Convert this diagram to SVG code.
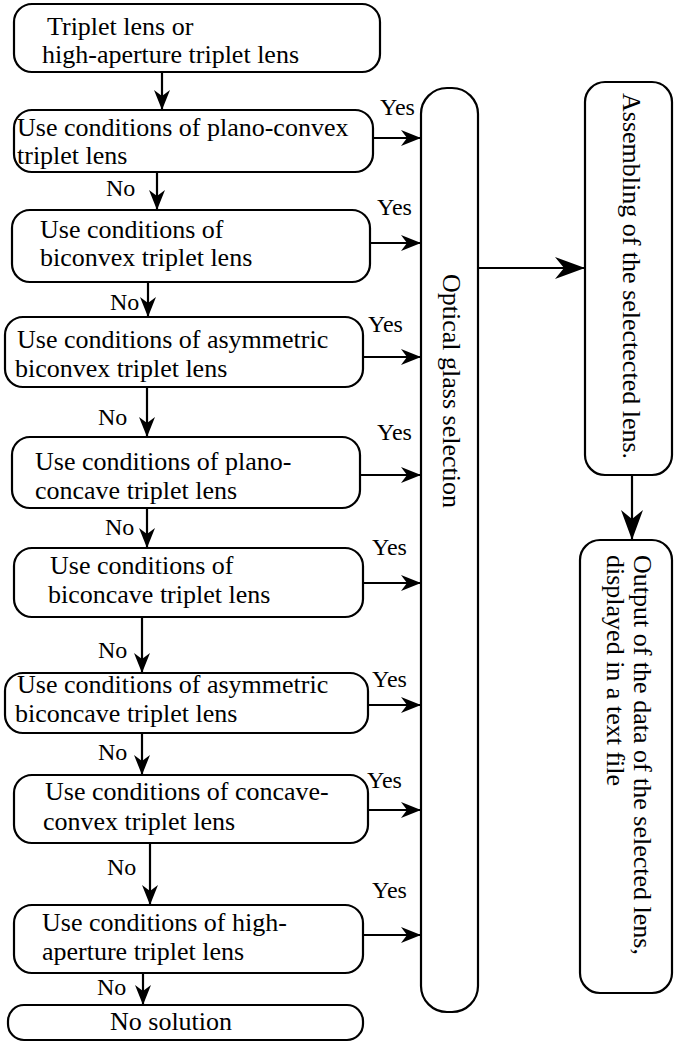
<svg xmlns="http://www.w3.org/2000/svg" width="674" height="1044" viewBox="0 0 674 1044">
  <style>
    .box { fill: #fff; stroke: #000; stroke-width: 2.2; }
    .t { font-family: "Liberation Serif", "Times New Roman", serif; font-size: 26px; fill: #000; }
    .lbl { font-family: "Liberation Serif", "Times New Roman", serif; font-size: 24px; fill: #000; }
    .ln { stroke: #000; stroke-width: 2.2; fill: none; }
  </style>
  <defs>
    <marker id="ah" markerUnits="userSpaceOnUse" markerWidth="24" markerHeight="20" refX="20" refY="9" orient="auto">
      <path d="M20,9 L0,1 L6,9 L0,17 Z" fill="#000"/>
    </marker>
    <marker id="ahL" markerUnits="userSpaceOnUse" markerWidth="34" markerHeight="26" refX="30" refY="12" orient="auto">
      <path d="M30,12 L0,1 L9,12 L0,23 Z" fill="#000"/>
    </marker>
  </defs>
  <rect width="674" height="1044" fill="#fff"/>

  <!-- connectors -->
  <g id="connectors">
    <!-- "No" chain down the left column -->
    <line class="ln" x1="162" y1="72" x2="162" y2="110" marker-end="url(#ah)"/>
    <line class="ln" x1="157" y1="172" x2="157" y2="210" marker-end="url(#ah)"/>
    <line class="ln" x1="148" y1="282" x2="148" y2="317" marker-end="url(#ah)"/>
    <line class="ln" x1="147" y1="387" x2="147" y2="437" marker-end="url(#ah)"/>
    <line class="ln" x1="147" y1="508" x2="147" y2="548" marker-end="url(#ah)"/>
    <line class="ln" x1="142" y1="617" x2="142" y2="673" marker-end="url(#ah)"/>
    <line class="ln" x1="142" y1="733" x2="142" y2="775" marker-end="url(#ah)"/>
    <line class="ln" x1="150" y1="843" x2="150" y2="905" marker-end="url(#ah)"/>
    <line class="ln" x1="143" y1="973" x2="143" y2="1005" marker-end="url(#ah)"/>
    <!-- "Yes" branches into the glass selection -->
    <line class="ln" x1="373" y1="138" x2="421" y2="138" marker-end="url(#ah)"/>
    <line class="ln" x1="370" y1="243" x2="421" y2="243" marker-end="url(#ah)"/>
    <line class="ln" x1="363" y1="357" x2="421" y2="357" marker-end="url(#ah)"/>
    <line class="ln" x1="360" y1="475" x2="421" y2="475" marker-end="url(#ah)"/>
    <line class="ln" x1="363" y1="583" x2="421" y2="583" marker-end="url(#ah)"/>
    <line class="ln" x1="368" y1="705" x2="421" y2="705" marker-end="url(#ah)"/>
    <line class="ln" x1="368" y1="810" x2="421" y2="810" marker-end="url(#ah)"/>
    <line class="ln" x1="363" y1="935" x2="421" y2="935" marker-end="url(#ah)"/>
    <!-- selection -> assembling -> output -->
    <line class="ln" x1="478" y1="268" x2="585" y2="268" marker-end="url(#ahL)"/>
    <line class="ln" x1="632" y1="475" x2="632" y2="540" marker-end="url(#ahL)"/>
    <!-- labels -->
    <text class="lbl" x="380" y="115">Yes</text>
    <text class="lbl" x="377" y="215">Yes</text>
    <text class="lbl" x="368" y="332">Yes</text>
    <text class="lbl" x="377" y="440">Yes</text>
    <text class="lbl" x="372" y="555">Yes</text>
    <text class="lbl" x="372" y="687">Yes</text>
    <text class="lbl" x="367" y="788">Yes</text>
    <text class="lbl" x="372" y="898">Yes</text>
    <text class="lbl" x="106" y="196">No</text>
    <text class="lbl" x="110" y="310">No</text>
    <text class="lbl" x="98" y="425">No</text>
    <text class="lbl" x="105" y="535">No</text>
    <text class="lbl" x="98" y="658">No</text>
    <text class="lbl" x="98" y="760">No</text>
    <text class="lbl" x="107" y="875">No</text>
    <text class="lbl" x="97" y="995">No</text>
  </g>

  <g id="start">
    <rect class="box" x="14" y="4" width="366" height="68" rx="18"/>
    <text class="t" x="47" y="35">Triplet lens or</text>
    <text class="t" x="42" y="63">high-aperture triplet lens</text>
  </g>
  <g id="plano-convex">
    <rect class="box" x="14" y="110" width="359" height="62" rx="18"/>
    <text class="t" x="17" y="136">Use conditions of plano-convex</text>
    <text class="t" x="17" y="164">triplet lens</text>
  </g>
  <g id="biconvex">
    <rect class="box" x="12" y="210" width="358" height="72" rx="18"/>
    <text class="t" x="40" y="238">Use conditions of</text>
    <text class="t" x="40" y="266">biconvex triplet lens</text>
  </g>
  <g id="asym-biconvex">
    <rect class="box" x="5" y="317" width="358" height="70" rx="18"/>
    <text class="t" x="17" y="348">Use conditions of asymmetric</text>
    <text class="t" x="15" y="377">biconvex triplet lens</text>
  </g>
  <g id="plano-concave">
    <rect class="box" x="12" y="437" width="348" height="71" rx="18"/>
    <text class="t" x="35" y="470">Use conditions of plano-</text>
    <text class="t" x="35" y="499">concave triplet lens</text>
  </g>
  <g id="biconcave">
    <rect class="box" x="14" y="548" width="349" height="69" rx="18"/>
    <text class="t" x="50" y="574">Use conditions of</text>
    <text class="t" x="48" y="603">biconcave triplet lens</text>
  </g>
  <g id="asym-biconcave">
    <rect class="box" x="5" y="673" width="363" height="60" rx="18"/>
    <text class="t" x="17" y="693">Use conditions of asymmetric</text>
    <text class="t" x="15" y="722">biconcave triplet lens</text>
  </g>
  <g id="concave-convex">
    <rect class="box" x="14" y="775" width="354" height="68" rx="18"/>
    <text class="t" x="45" y="800">Use conditions of concave-</text>
    <text class="t" x="43" y="830">convex triplet lens</text>
  </g>
  <g id="high-aperture">
    <rect class="box" x="14" y="905" width="349" height="68" rx="18"/>
    <text class="t" x="42" y="931">Use conditions of high-</text>
    <text class="t" x="42" y="960">aperture triplet lens</text>
  </g>
  <g id="no-solution">
    <rect class="box" x="8" y="1005" width="355" height="35" rx="16"/>
    <text class="t" x="110" y="1030">No solution</text>
  </g>

  <g id="glass-selection">
    <rect class="box" x="421" y="88" width="57" height="924" rx="26"/>
    <text class="t" text-anchor="middle" transform="translate(443,391) rotate(90)">Optical glass selection</text>
  </g>
  <g id="assembling">
    <rect class="box" x="585" y="82" width="87" height="393" rx="20"/>
    <text class="t" transform="translate(623,93) rotate(90)">Assembling of the selectected lens.</text>
  </g>
  <g id="output">
    <rect class="box" x="580" y="540" width="92" height="453" rx="20"/>
    <text class="t" transform="translate(634,555) rotate(90)">Output of the data of the selected lens,<tspan x="0" dy="27">displayed in a text file</tspan></text>
  </g>
</svg>
